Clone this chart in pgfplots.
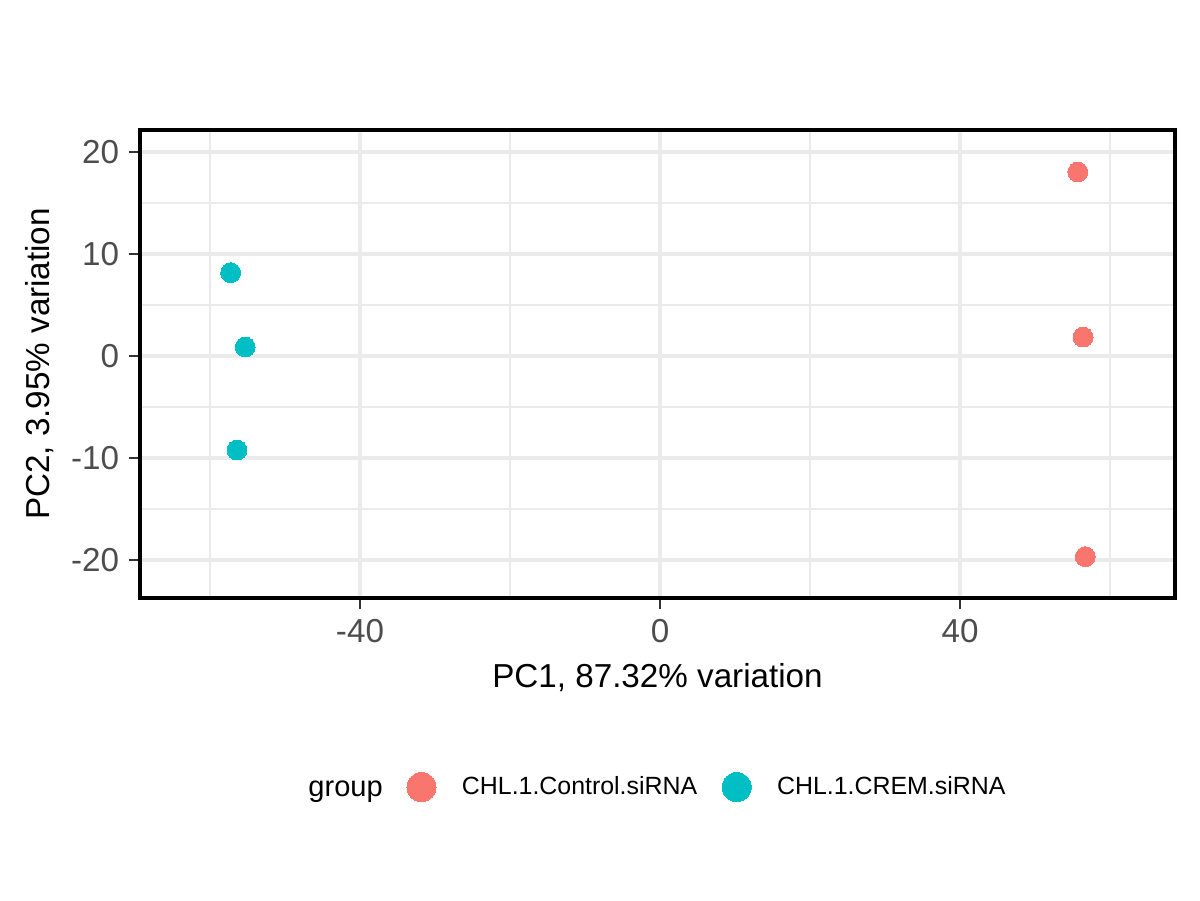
\documentclass[border=0pt]{standalone}
\usepackage{pgfplots}
\pgfplotsset{compat=1.18}
\usepackage{fontspec}
\setmainfont{Liberation Sans}
\definecolor{cred}{HTML}{F8766D}
\definecolor{ccyan}{HTML}{00BFC4}
\definecolor{gridc}{HTML}{EBEBEB}
\definecolor{tickc}{HTML}{333333}
\definecolor{ticklab}{HTML}{4D4D4D}
\begin{document}
\begin{tikzpicture}
\path[use as bounding box] (0,0) rectangle (578.16pt,433.62pt);
\begin{axis}[
  at={(67.45pt,145.5pt)}, anchor=south west,
  scale only axis, width=498.7pt, height=225.5pt,
  xmin=-69.33, xmax=68.67, ymin=-23.73, ymax=22.16,
  xtick={-40,0,40}, ytick={-20,-10,0,10,20},
  minor xtick={-60,-20,20,60}, minor ytick={-15,-5,5,15},
  grid=both,
  major grid style={gridc, line width=1.9pt},
  minor grid style={gridc, line width=1.0pt},
  axis line style={black, line width=1.6pt},
  every outer x axis line/.append style={black, line width=1.6pt},
  every outer y axis line/.append style={black, line width=1.6pt},
  tick align=outside, tickpos=left,
  major tick length=5.5pt, minor tick length=0pt,
  every tick/.style={tickc, line width=1.3pt},
  /pgf/number format/assume math mode=true,
  ticklabel style={font=\fontsize{16}{19}\selectfont, text=ticklab},
  yticklabel style={xshift=-1pt},
  xticklabel style={yshift=-1pt},
  xlabel={PC1, 87.32\% variation},
  ylabel={PC2, 3.95\% variation},
  label style={font=\fontsize{16}{19}\selectfont},
  xlabel style={at={(axis description cs:0.5,-0.192)}, anchor=base},
  ylabel style={at={(axis description cs:-0.087,0.5)}, anchor=base},
  legend columns=2,
  legend style={at={(rel axis cs:0.2575,-0.404)}, anchor=west, draw=none, fill=none,
    inner sep=0pt, nodes={inner sep=0pt}, font=\fontsize{12}{14}\selectfont,
    /tikz/every odd column/.append style={column sep=12.5pt},
    /tikz/every even column/.append style={column sep=12pt}},
  legend image code/.code={\draw[#1, mark size=7pt] plot coordinates {(0pt,0pt)};},
  clip=false,
]
\addplot[only marks, mark=*, mark size=4.8pt, color=cred, mark options={draw=cred, fill=cred, line width=0pt}] coordinates {
  (55.7,18.04) (56.4,1.86) (56.7,-19.68)
};
\addlegendentry{CHL.1.Control.siRNA}
\addplot[only marks, mark=*, mark size=4.8pt, color=ccyan, mark options={draw=ccyan, fill=ccyan, line width=0pt}] coordinates {
  (-57.24,8.17) (-55.3,0.88) (-56.4,-9.22)
};
\addlegendentry{CHL.1.CREM.siRNA}
\end{axis}
\node[anchor=base west, inner sep=0pt, font=\fontsize{14}{17}\selectfont] at (148.4pt,50.1pt) {group};
\end{tikzpicture}
\end{document}
